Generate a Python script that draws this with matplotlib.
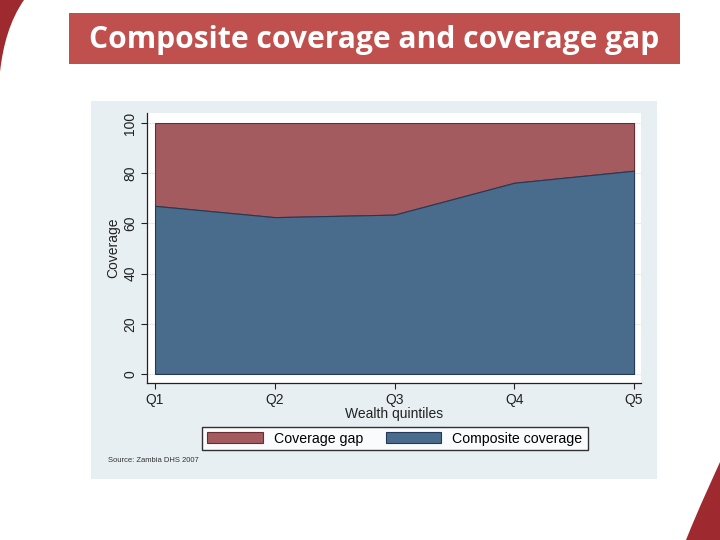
import matplotlib
matplotlib.use("Agg")
import matplotlib.pyplot as plt
from matplotlib.patches import Rectangle, PathPatch
from matplotlib.path import Path

categories = ["Q1", "Q2", "Q3", "Q4", "Q5"]
composite = [67.0, 62.5, 63.5, 76.2, 81.0]
total = [100, 100, 100, 100, 100]
yticks = [0, 20, 40, 60, 80, 100]

W, H = 720, 540
fig = plt.figure(figsize=(7.2, 5.4), dpi=100)
fig.patch.set_facecolor("white")

def fx(px):
    return px / W

def fy(py):
    return 1 - py / H

def add_patch(p):
    p.set_zorder(-5)
    fig.patches.append(p)

# decorative swooshes
verts = [(fx(0), fy(0)), (fx(24), fy(0)), (fx(10), fy(20)), (fx(3), fy(45)), (fx(0), fy(72)), (fx(0), fy(0))]
codes = [Path.MOVETO, Path.LINETO, Path.CURVE4, Path.CURVE4, Path.CURVE4, Path.CLOSEPOLY]
add_patch(PathPatch(Path(verts, codes), transform=fig.transFigure, facecolor="#9e2a2f", edgecolor="none"))
verts2 = [(fx(686), fy(540)), (fx(700), fy(505)), (fx(712), fy(480)), (fx(720), fy(462)), (fx(720), fy(540)), (fx(686), fy(540))]
codes2 = [Path.MOVETO, Path.CURVE4, Path.CURVE4, Path.CURVE4, Path.LINETO, Path.CLOSEPOLY]
add_patch(PathPatch(Path(verts2, codes2), transform=fig.transFigure, facecolor="#9e2a2f", edgecolor="none"))

# title banner
add_patch(Rectangle((fx(69), fy(64)), fx(680) - fx(69), fy(13) - fy(64),
                    transform=fig.transFigure, facecolor="#c0504d", edgecolor="none"))
fig.text(fx(374), fy(40), "Composite coverage and coverage gap", color="white",
         fontsize=21.6, fontweight="bold", family="Open Sans", ha="center", va="center")

# gray graph region
add_patch(Rectangle((fx(91), fy(479)), fx(657) - fx(91), fy(101) - fy(479),
                    transform=fig.transFigure, facecolor="#e8eff2", edgecolor="none"))

ax = fig.add_axes([fx(147), fy(383), fx(641) - fx(147), fy(113) - fy(383)])
ax.set_zorder(2)
ax.set_facecolor("white")
x = list(range(len(categories)))
ax.set_xlim(-0.067, 4.058)
ax.set_ylim(-3.6, 104)
for yv in yticks:
    ax.axhline(yv, color="#e6eef0", lw=0.8, zorder=0)
ax.fill_between(x, composite, total, facecolor="#a35b60", edgecolor="#6b2b30", lw=0.8, zorder=2,
                label="Coverage gap")
ax.fill_between(x, 0, composite, facecolor="#496b8c", edgecolor="#223a58", lw=0.8, zorder=3,
                label="Composite coverage")

fs = 10
ax.set_xticks(x)
ax.set_xticklabels(categories, fontsize=fs, family="Liberation Sans", color="#222222")
ax.set_yticks(yticks)
ax.set_yticklabels([str(v) for v in yticks], fontsize=fs, family="Liberation Sans",
                   color="#222222", rotation=90, va="center")
ax.tick_params(axis="both", length=4, width=0.8, color="#222222", pad=3)
for s in ["top", "right"]:
    ax.spines[s].set_visible(False)
for s in ["left", "bottom"]:
    ax.spines[s].set_color("#222222")
    ax.spines[s].set_linewidth(0.9)
ax.set_xlabel("Wealth quintiles", fontsize=fs, family="Liberation Sans", color="#222222", labelpad=0)
ax.set_ylabel("Coverage", fontsize=fs, family="Liberation Sans", color="#222222", labelpad=2)

h, l = ax.get_legend_handles_labels()
leg = fig.legend(h, l, loc="center", bbox_to_anchor=(fx(395), fy(438.5)), ncol=2,
                 prop={"family": "Liberation Sans", "size": 10.2}, frameon=True, fancybox=False,
                 edgecolor="black", handlelength=3.9, handleheight=0.9, columnspacing=1.6,
                 borderpad=0.35, handletextpad=0.8, borderaxespad=0)
leg.get_frame().set_linewidth(1.0)
leg.get_frame().set_facecolor("white")
leg.set_zorder(3)

fig.text(fx(108), fy(461), "Source: Zambia DHS 2007", fontsize=5.5, family="Liberation Sans",
         color="#333333", ha="left", va="center")

fig.savefig("out.png", dpi=100, facecolor="white")
